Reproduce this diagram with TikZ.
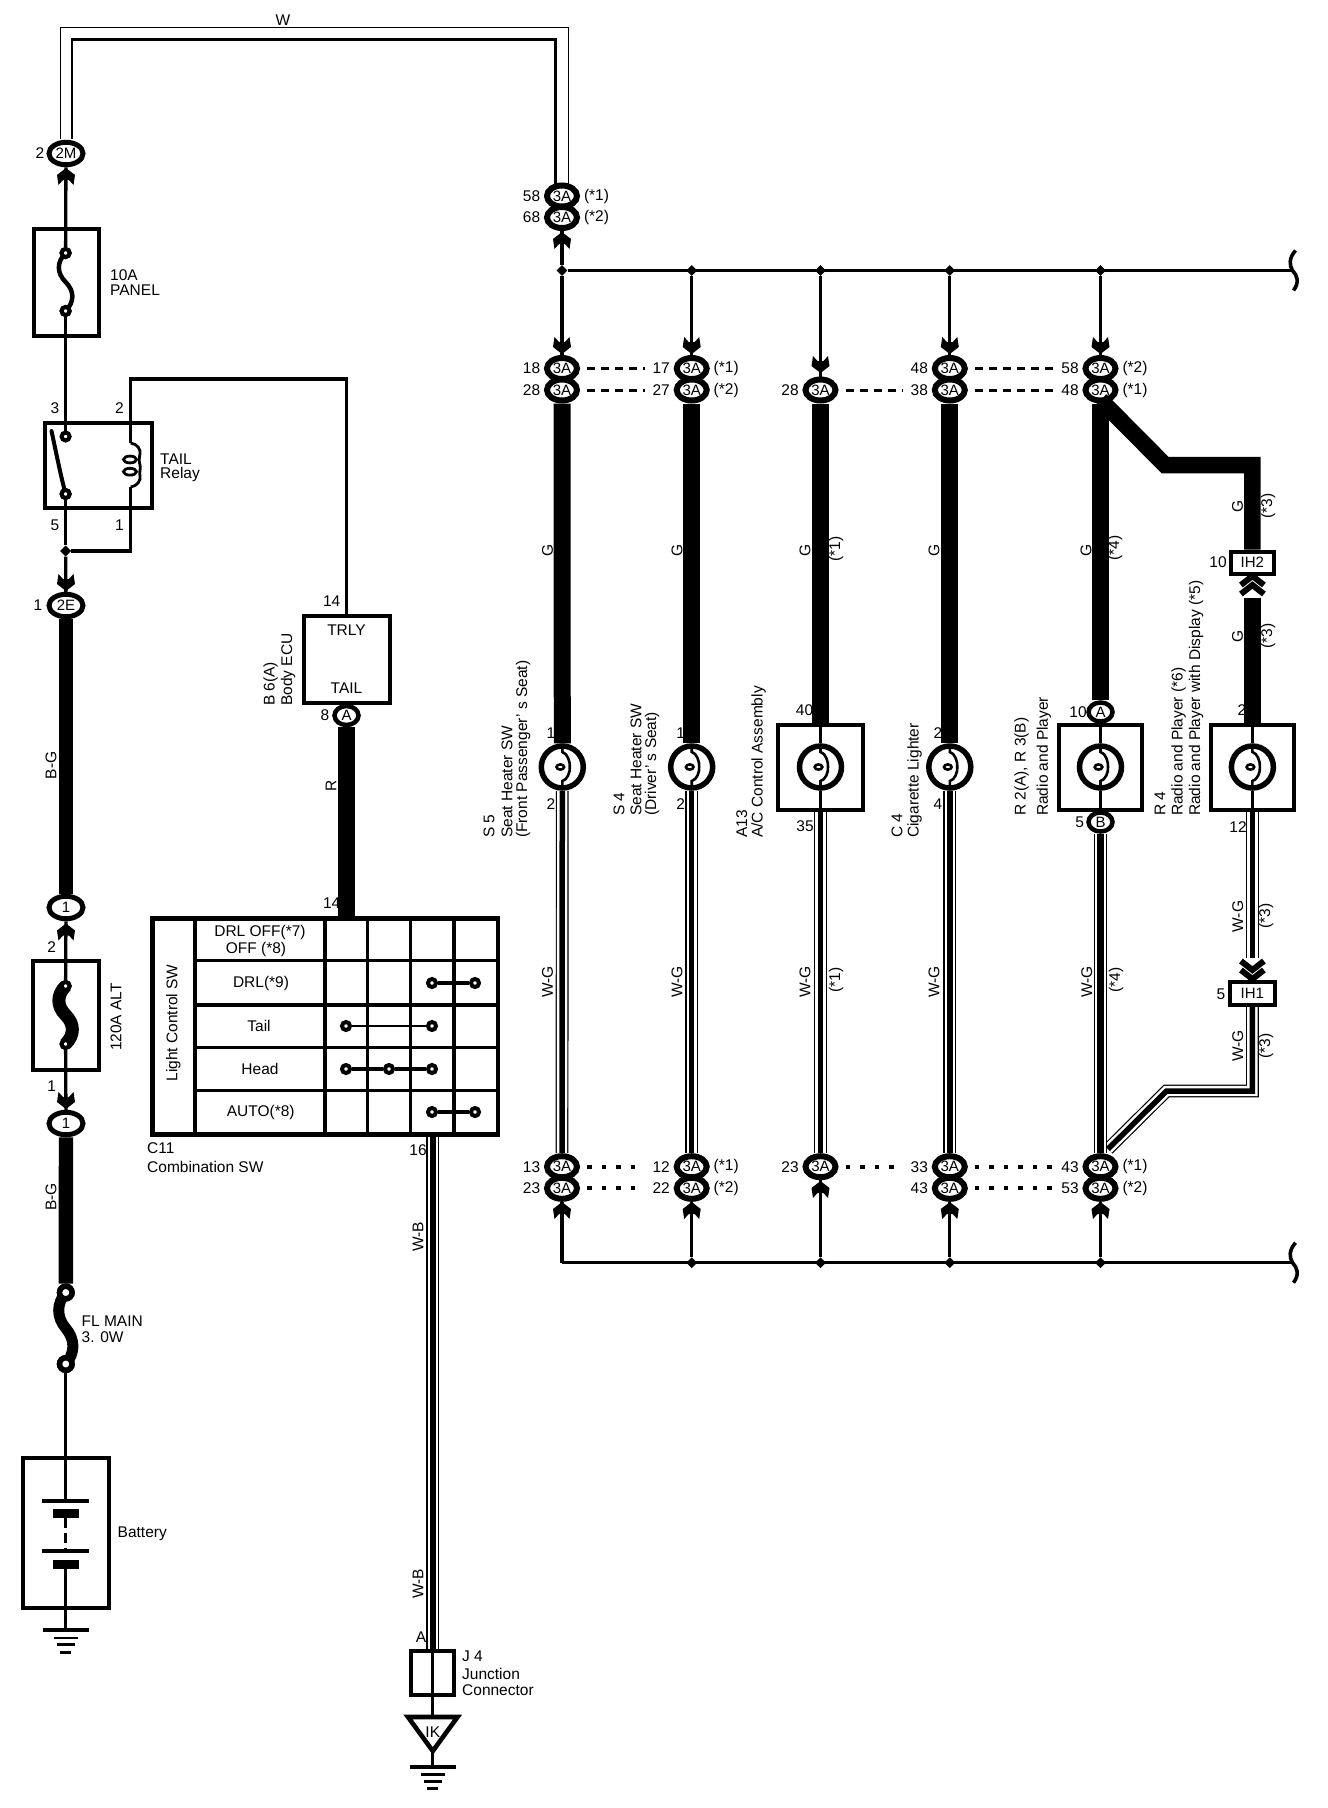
\documentclass[tikz,border=0pt]{standalone}
\usepackage{fontspec}
\setmainfont{Liberation Sans}
\usetikzlibrary{shapes.geometric}
\tikzset{
    lbl/.style = {font = \fontsize{15.5}{17}\selectfont, inner sep = 0pt},
    lblw/.style = {lbl, anchor = west},
    vlbl/.style = {lbl, rotate = 90},
    vlblw/.style = {lbl, rotate = 90, anchor = west},
    wire/.style = {line width = 3.3pt},
    heavywire/.style = {line width = 17pt},
    stripewire/.style = {line width = 5.5pt,
        preaction = {draw, line width = 12.8pt},
        preaction = {draw, white, line width = 10.4pt}},
    conn/.style = {ellipse, draw, fill = white, line width = 5pt, inner sep = 0pt,
        minimum width = 34pt, minimum height = 22.5pt, font = \fontsize{15}{17}\selectfont},
    smallconn/.style = {ellipse, draw, fill = white, line width = 4.5pt, inner sep = 0pt,
        minimum width = 24pt, minimum height = 19pt, font = \fontsize{15}{17}\selectfont},
    rowconn/.style = {ellipse, draw, fill = white, line width = 6pt, inner sep = 0pt,
        minimum width = 30pt, minimum height = 21pt, font = \fontsize{15}{17}\selectfont},
    partbox/.style = {rectangle, draw, line width = 4pt, inner sep = 0pt},
    termdot/.style = {circle, draw, fill = white, line width = 4pt, inner sep = 0pt, minimum size = 8pt},
    fldot/.style = {circle, draw, fill = white, line width = 5.5pt, inner sep = 0pt, minimum size = 12.5pt},
    joint/.style = {diamond, fill = black, inner sep = 0pt, minimum size = 11pt},
    lamp/.style = {circle, draw, fill = white, line width = 5.5pt, inner sep = 0pt, minimum size = 42pt},
    linkdash/.style = {line width = 3pt, dash pattern = on 8pt off 6pt},
    linkdot/.style = {line width = 4pt, dash pattern = on 4.5pt off 10pt},
    inarrow/.pic = {
        \fill (0,0) -- (9,7) -- (7.5,17) -- (3,12) -- (-3,12) -- (-7.5,17) -- (-9,7) -- cycle;
    },
    chevrons/.pic = {
        \draw[line width = 6pt, miter limit = 4] (-11.5,8) -- (0,-1) -- (11.5,8);
        \draw[line width = 6pt, miter limit = 4] (-11.5,17) -- (0,8) -- (11.5,17);
    },
    fusewire/.pic = {
        \draw (0,0) .. controls (-9,9) and (-9,20) .. (0,29) .. controls (9,38) and (9,49) .. (0,58);
    },
    lampcoil/.pic = {
        \draw[line width = 2.6pt] (0,-21) -- (0,-15) .. controls (5,-14) and (8,-5) .. (7.5,0)
            .. controls (8,5) and (5,13) .. (0,14) -- (0,21);
        \draw[line width = 2.6pt, fill = white] (-2,0) ellipse (3.8 and 2.6);
    },
    gnd/.pic = {
        \fill (-23,-2) rectangle (23,2);
        \fill (-12,6.5) rectangle (12,9);
        \fill (-8.7,13.2) rectangle (8.7,16.2);
        \fill (-5.5,20.5) rectangle (5.5,23.5);
    },
    brace/.pic = {
        \draw[line width = 3.6pt] (2,-20) .. controls (-5,-12) and (-4,-5) .. (-1,0) .. controls (4,5) and (6,12) .. (0,20);
    }
}
\newcommand{\threeA}[5]{%
    \node[rowconn] (#1) at (#2,#3) {3A};
    \node[lbl] (#1pin) at (#2-30.5,#3) {#4};
    \node[lbl] (#1star) at (#2+34.5,#3) {#5};
}
\begin{document}
\begin{tikzpicture}[x=1pt,y=-1pt]
    \useasboundingbox (0,0) rectangle (1328,1808);
    % left feed: connectors, fuses, relay
    \node[conn] (c2M) at (66,153.5) {2M};
    \node[lbl] (pin2M) at (40,153.5) {2};
    \node[partbox, minimum width = 65pt, minimum height = 107pt] (fuseA) at (66,282) {};
    \node[termdot] (fuseAt) at (65.6,253) {};
    \node[termdot] (fuseAb) at (65.6,311) {};
    \node[lblw] (fuseAa) at (110,275) {10A};
    \node[lblw] (fuseAn) at (110,290.5) {PANEL};
    \node[partbox, minimum width = 106.4pt, minimum height = 85pt] (relay) at (98.3,465) {};
    \node[termdot] (relayt) at (65.6,436.5) {};
    \node[termdot] (relayb) at (65.6,494) {};
    \coordinate (arm) at (51.5,431);
    \coordinate (coilT) at (130.7,443);
    \coordinate (coilB) at (130.7,487);
    \coordinate (coilUp) at (130.7,379);
    \node[lbl] (pin3) at (55,408.5) {3};
    \node[lbl] (pin2) at (119.5,408.5) {2};
    \node[lbl] (pin5) at (55,525) {5};
    \node[lbl] (pin1) at (119.5,525) {1};
    \node[lblw] (relayn) at (160,459) {TAIL};
    \node[lblw] (relayr) at (160,474.5) {Relay};
    \node[joint] (jr) at (65.6,551) {};
    \node[conn] (c2E) at (66,605.5) {2E};
    \node[lbl] (pin2E) at (38,605.5) {1};
    \node[conn] (cTop1) at (66,907.5) {1};
    \node[lbl] (pinF2) at (51.7,947.5) {2};
    \node[partbox, minimum width = 65.3pt, minimum height = 109pt] (fuseB) at (66,1015) {};
    \node[termdot] (fuseBt) at (65.6,986) {};
    \node[termdot] (fuseBb) at (65.6,1044) {};
    \node[vlbl] (fuseBn) at (116,1017) {120A ALT};
    \node[lbl] (pinF1) at (51.7,1086) {1};
    \node[conn] (cLow1) at (66,1123.5) {1};
    \node[vlbl] (wireBGa) at (51,765.5) {B-G};
    \node[vlbl] (wireBGb) at (51,1197) {B-G};
    \node[fldot] (flt) at (65.8,1292.5) {};
    \node[fldot] (flb) at (65.8,1364) {};
    \node[lblw] (fln) at (81.5,1321.5) {FL MAIN};
    \node[lblw] (flv) at (81.5,1337) {3. 0W};
    \node[partbox, minimum width = 86.5pt, minimum height = 150.5pt] (battery) at (66,1533) {};
    \node[lblw] (batteryn) at (117.5,1533.5) {Battery};
    \coordinate (batA) at (65.8,1500.5);
    \coordinate (batB) at (65.8,1518);
    \coordinate (batC) at (65.8,1551);
    \coordinate (batD) at (65.8,1568);
    \coordinate (gndA) at (65.8,1630);

    % W wire over the top
    \threeA{feedA}{562}{196}{58}{(*1)}
    \threeA{feedB}{562}{217.5}{68}{(*2)}
    \node[lbl] (wireW) at (283,20) {W};
    \coordinate (wOa) at (60.8,139);
    \coordinate (wOb) at (60.8,27.3);
    \coordinate (wOc) at (568.4,27.3);
    \coordinate (wOd) at (568.4,184);
    \coordinate (wIa) at (72,139);
    \coordinate (wIb) at (72,39.5);
    \coordinate (wIc) at (555.6,39.5);
    \coordinate (wId) at (555.6,184);
    \draw[line width = 1.3pt] (wOa) -- (wOb) -- (wOc) -- (wOd);
    \draw[line width = 2.3pt] (wIa) -- (wIb) -- (wIc) -- (wId);

    \draw[wire] (c2M) -- (fuseAt);
    \draw[wire] (fuseAb) -- (relayt);
    \draw[wire] (relayb) -- (jr);
    \draw[wire] (jr) -- (c2E);
    \draw[line width = 4pt, line cap = round] (arm) .. controls (56,452) and (60,472) .. (relayb);
    \pic[line width = 4.5pt] at (fuseAt) {fusewire};
    \node[termdot] at (fuseAt) {};
    \node[termdot] at (fuseAb) {};
    \node[termdot] at (relayb) {};
    \draw[line width = 14.4pt] (c2E) -- (cTop1);
    \draw[line width = 14.4pt] (cLow1) -- (flt);
    \draw[wire] (cTop1) -- (fuseBt);
    \draw[wire] (fuseBb) -- (cLow1);
    \pic[line width = 13pt] at (fuseBt) {fusewire};
    \node[termdot] at (fuseBt) {};
    \node[termdot] at (fuseBb) {};
    \pic[line width = 11pt, yscale = 1.233, xscale = 1.05] at (flt) {fusewire};
    \node[fldot] at (flt) {};
    \node[fldot] at (flb) {};
    \pic at (66,168) {inarrow};
    \pic[yscale = -1] at (66,591) {inarrow};
    \pic at (66,923.5) {inarrow};
    \pic[yscale = -1] at (66,1109) {inarrow};

    % relay coil
    \node[lbl] (pinT) at (331.7,601.5) {14};
    \node[partbox, minimum width = 86pt, minimum height = 87pt] (ecu) at (346.5,659) {};
    \node[lbl] (ecuT) at (346.5,630) {TRLY};
    \node[lbl] (ecuB) at (346.5,688.5) {TAIL};
    \node[vlblw] (ecuC) at (270.7,706) {B 6(A)};
    \node[vlblw] (ecuN) at (288,706) {Body ECU};
    \node[smallconn] (cA) at (346.5,715.5) {A};
    \node[lbl] (pinA) at (325,715.5) {8};
    \draw[wire] (ecu.north) |- (coilUp) -- (coilT);
    \draw[wire] (jr) -| (coilB);
    \draw[line width = 2.8pt] (coilT) .. controls (137,444) and (141,449) .. (140,454)
        .. controls (139,458) and (139,462) .. (140,465) .. controls (141,469) and (139,472) .. (140,476)
        .. controls (141,481) and (137,486) .. (coilB);
    \draw[line width = 2.8pt, fill = white] (130,459.5) ellipse (6.5 and 3.4);
    \draw[line width = 2.8pt, fill = white] (130,471.7) ellipse (6.5 and 3.4);

    % battery and ground
    \draw[wire] (flb) -- (batA);
    \fill (42,1498.5) rectangle (89,1502.5);
    \fill (53,1509) rectangle (79,1518);
    \draw[line width = 3pt, dash pattern = on 10pt off 5pt] (batB) -- (batC);
    \fill (42,1549) rectangle (89,1553);
    \fill (53,1559.5) rectangle (79,1568.5);
    \draw[wire] (batD) -- (gndA);
    \pic at (gndA) {gnd};

    % switch table
    \node[partbox, line width = 4.6pt, minimum width = 345.2pt, minimum height = 215.6pt] (tbl) at (325.3,1026.4) {};
    \foreach \tx in {195,325,367.7,410.7,454}
        \draw[line width = 3.3pt] (\tx,919) -- (\tx,1134);
    \foreach \ty in {960.7,1005,1047.7,1090.7}
        \draw[line width = 3.3pt] (195,\ty) -- (498,\ty);
    \node[vlbl] (tblS) at (173.3,1023) {Light Control SW};
    \node[lbl] (rowA) at (260,932) {DRL OFF(*7)};
    \node[lbl] (rowAb) at (256,949) {OFF (*8)};
    \node[lbl] (rowB) at (261,983) {DRL(*9)};
    \node[lbl] (rowC) at (259,1026) {Tail};
    \node[lbl] (rowD) at (260,1069) {Head};
    \node[lbl] (rowE) at (260.7,1112) {AUTO(*8)};
    \node[termdot] (drlA) at (432,983) {};
    \node[termdot] (drlB) at (475,983) {};
    \node[termdot] (tailA) at (346,1026) {};
    \node[termdot] (tailB) at (432,1026) {};
    \node[termdot] (headA) at (346,1069) {};
    \node[termdot] (headB) at (389,1069) {};
    \node[termdot] (headC) at (432,1069) {};
    \node[termdot] (autoA) at (432,1112) {};
    \node[termdot] (autoB) at (475,1112) {};
    \draw[wire] (drlA) -- (drlB);
    \draw[line width = 2pt] (tailA) -- (tailB);
    \draw[wire] (headA) -- (headB) -- (headC);
    \draw[wire] (autoA) -- (autoB);
    \node[lbl] (pinS) at (331.7,903.5) {14};
    \node[lbl] (pinR) at (418,1150) {16};
    \node[lblw] (tblC) at (147,1148) {C11};
    \node[lblw] (tblN) at (147,1167) {Combination SW};
    \node[vlbl] (wireR) at (331,786) {R};
    \draw[line width = 16.7pt] (cA) -- (cA |- tbl.north);

    % junction connector
    \node[partbox, minimum width = 43pt, minimum height = 43.6pt] (jun) at (432.8,1672.7) {};
    \node[lbl] (pinJ) at (421,1637.5) {A};
    \node[lblw] (junC) at (462,1656.5) {J 4};
    \node[lblw] (junA) at (462,1674) {Junction};
    \node[lblw] (junB) at (462,1690) {Connector};
    \node[vlbl] (wireWBa) at (418,1237) {W-B};
    \node[vlbl] (wireWBb) at (418,1584) {W-B};
    \coordinate (triL) at (408,1717);
    \coordinate (triR) at (457.5,1717);
    \coordinate (triB) at (432.8,1751);
    \coordinate (gndB) at (432.8,1766.5);
    \node[lbl] (triN) at (432.8,1732) {IK};
    \draw[stripewire] (jun.north |- tbl.south) -- (jun.north);
    \draw[wire] (jun.north) -- (triL -| jun.north);
    \draw[line width = 4.6pt] (triL) -- (triR) -- (triB) -- cycle;
    \draw[wire] (triB) -- (gndB);
    \pic at (gndB) {gnd};

    % bus bars and junctions
    \node[joint] (ja) at (562,270.5) {};
    \node[joint] (jb) at (691.7,270.5) {};
    \node[joint] (jc) at (820.5,270.5) {};
    \node[joint] (jd) at (949.8,270.5) {};
    \node[joint] (je) at (1100.5,270.5) {};
    \coordinate (busT) at (1291,270.5);
    \coordinate (ka) at (562,1262.7);
    \node[joint] (kb) at (691.7,1262.7) {};
    \node[joint] (kc) at (820.5,1262.7) {};
    \node[joint] (kd) at (949.8,1262.7) {};
    \node[joint] (ke) at (1100.5,1262.7) {};
    \coordinate (busB) at (1291,1262.7);
    \draw[wire] (feedB) -- (ja) -- (busT);
    \draw[wire] (ka) -- (busB);
    \pic at (1293.5,270.5) {brace};
    \pic at (1293.5,1262.7) {brace};
    \pic at (562,232) {inarrow};

    % upper connector rows
    \threeA{ta1}{562}{368.5}{18}{}
    \threeA{ta2}{562}{390}{28}{}
    \threeA{tb1}{691.7}{368.5}{17}{(*1)}
    \threeA{tb2}{691.7}{390}{27}{(*2)}
    \threeA{tc2}{820.5}{390}{28}{}
    \threeA{td1}{949.8}{368.5}{48}{}
    \threeA{td2}{949.8}{390}{38}{}
    \threeA{te1}{1100.5}{368.5}{58}{(*2)}
    \threeA{te2}{1100.5}{390}{48}{(*1)}
    \foreach \a/\b in {ta1/tb1,ta2/tb2,tc2/td2,td1/te1,td2/te2}
        \draw[linkdash] ([xshift = 7]\a.east) -- ([xshift = -29]\b.west);

    % lower connector rows
    \threeA{ba1}{562}{1166.7}{13}{}
    \threeA{ba2}{562}{1188.3}{23}{}
    \threeA{bb1}{691.7}{1166.7}{12}{(*1)}
    \threeA{bb2}{691.7}{1188.3}{22}{(*2)}
    \threeA{bc1}{820.5}{1166.7}{23}{}
    \threeA{bd1}{949.8}{1166.7}{33}{}
    \threeA{bd2}{949.8}{1188.3}{43}{}
    \threeA{be1}{1100.5}{1166.7}{43}{(*1)}
    \threeA{be2}{1100.5}{1188.3}{53}{(*2)}
    \foreach \a/\b in {ba1/bb1,ba2/bb2,bc1/bd1,bd1/be1,bd2/be2}
        \draw[linkdot] ([xshift = 7]\a.east) -- ([xshift = -29]\b.west);

    % loads
    \node[lamp] (la) at (562.3,767) {};
    \node[lamp] (lb) at (691.7,767) {};
    \node[partbox, minimum width = 85.4pt, minimum height = 85.4pt] (boxc) at (820.5,767.5) {};
    \node[lamp] (lc) at (820.5,767) {};
    \node[lamp] (ld) at (949.8,767) {};
    \node[partbox, minimum width = 83.4pt, minimum height = 85.4pt] (boxe) at (1100.5,767.5) {};
    \node[lamp] (le) at (1100.5,767) {};
    \node[partbox, minimum width = 83pt, minimum height = 85.4pt] (boxf) at (1252.4,767.5) {};
    \node[lamp] (lf) at (1252.4,767) {};
    \node[smallconn] (cPlusA) at (1100.5,712) {A};
    \node[smallconn] (cPlusB) at (1100.5,822) {B};
    \node[partbox, minimum width = 42.3pt, minimum height = 22pt, font = \fontsize{15}{17}\selectfont] (ih2) at (1252.4,562.5) {IH2};
    \node[partbox, minimum width = 44.7pt, minimum height = 22.7pt, font = \fontsize{15}{17}\selectfont] (ih1) at (1252.4,993.8) {IH1};

    % wires into the loads
    \foreach \j/\c in {ja/ta1,jb/tb1,jc/tc2,jd/td1,je/te1}
        \draw[wire] (\j) -- (\c);
    \foreach \c/\l in {ta2/la,tb2/lb,td2/ld}
        \draw[heavywire] (\c) -- (\l);
    \draw[heavywire] (tc2) -- (boxc.north);
    \draw[wire] (boxc.north) -- (lc);
    \draw[heavywire] (te2) -- (cPlusA);
    \draw[wire] (cPlusA) -- (le);
    \draw[wire] (le) -- (cPlusB);
    \draw[wire] (lc) -- (boxc.south);
    \draw[line width = 16.5pt] (1100.5,400) -- (1165,465) -- (1252.4,465) -- (ih2.north);
    \draw[heavywire] (1252.4,598) -- (boxf.north);
    \draw[wire] (boxf.north) -- (lf);
    \draw[wire] (lf) -- (boxf.south);
    \pic at (1252.4,577) {chevrons};
    \pic[yscale = -1] at (1252.4,978) {chevrons};

    % striped return wires
    \draw[stripewire] (boxf.south) -- (1252.4,958);
    \draw[stripewire] (ih1.south) -- (1252.4,1091) -- (1166.5,1091) -- (1108,1149);
    \foreach \l/\c in {la/ba1,lb/bb1,ld/bd1}
        \draw[stripewire] (\l) -- (\c);
    \draw[stripewire] (boxc.south) -- (bc1);
    \draw[stripewire, line width = 6.5pt] (cPlusB) -- (be1);
    \foreach \l in {la,lb,lc,ld,le,lf}
        \pic at (\l) {lampcoil};
    \foreach \c/\k in {ba2/ka,bb2/kb,bc1/kc,bd2/kd,be2/ke}
        \draw[wire] (\c) -- (\k);

    % arrow tips
    \foreach \tx in {562,691.7,949.8,1100.5}
        \pic[yscale = -1] at (\tx,354) {inarrow};
    \pic[yscale = -1] at (820.5,373) {inarrow};
    \foreach \tx in {562,691.7,949.8,1100.5}
        \pic at (\tx,1202) {inarrow};
    \pic at (820.5,1181) {inarrow};

    % pin numbers
    \node[lbl] (pinaT) at (551,732.7) {1};
    \node[lbl] (pinaB) at (551,804) {2};
    \node[lbl] (pinbT) at (680.6,732.7) {1};
    \node[lbl] (pinbB) at (680.6,804) {2};
    \node[lbl] (pincT) at (804.6,710) {40};
    \node[lbl] (pincB) at (805,826) {35};
    \node[lbl] (pindT) at (938,732.7) {2};
    \node[lbl] (pindB) at (938,804) {4};
    \node[lbl] (pineT) at (1078,712.5) {10};
    \node[lbl] (pineB) at (1079.7,822) {5};
    \node[lbl] (pinfT) at (1241.8,710) {2};
    \node[lbl] (pinfB) at (1238,826.7) {12};
    \node[lbl] (pinIHb) at (1218,562.5) {10};
    \node[lbl] (pinIHa) at (1221,994) {5};

    % wire colours
    \node[vlbl] (gA) at (547.5,550) {G};
    \node[vlbl] (gB) at (677,550) {G};
    \node[vlbl] (gC) at (805,550) {G};
    \node[vlbl] (gD) at (934,550) {G};
    \node[vlbl] (gE) at (1086,550) {G};
    \node[vlbl] (sC) at (836,549) {(*1)};
    \node[vlbl] (sE) at (1115,548) {(*4)};
    \node[vlbl] (gFa) at (1237.6,506.7) {G};
    \node[vlbl] (sFa) at (1268,505.7) {(*3)};
    \node[vlbl] (gFb) at (1237.6,636) {G};
    \node[vlbl] (sFb) at (1268,636) {(*3)};
    \node[vlbl] (wgA) at (547.5,982) {W-G};
    \node[vlbl] (wgB) at (677,982) {W-G};
    \node[vlbl] (wgC) at (805,982) {W-G};
    \node[vlbl] (wgD) at (934,982) {W-G};
    \node[vlbl] (wgE) at (1086.7,982) {W-G};
    \node[vlbl] (wsC) at (836,980) {(*1)};
    \node[vlbl] (wsE) at (1116,980) {(*4)};
    \node[vlbl] (wgFa) at (1237.7,916.7) {W-G};
    \node[vlbl] (wsFa) at (1266,915.7) {(*3)};
    \node[vlbl] (wgFb) at (1237.7,1046) {W-G};
    \node[vlbl] (wsFb) at (1266,1045.7) {(*3)};

    % part names
    \node[vlblw] (nameAa) at (489,838) {S 5};
    \node[vlblw] (nameAb) at (507,838) {Seat Heater SW};
    \node[vlblw] (nameAc) at (523,838) {(Front Passenger' s Seat)};
    \node[vlblw] (nameBa) at (619,816) {S 4};
    \node[vlblw] (nameBb) at (636,816) {Seat Heater SW};
    \node[vlblw] (nameBc) at (652,816) {(Driver' s Seat)};
    \node[vlblw] (nameCa) at (741.8,838) {A13};
    \node[vlblw] (nameCb) at (758.7,838) {A/C Control Assembly};
    \node[vlblw] (nameDa) at (897,838) {C 4};
    \node[vlblw] (nameDb) at (914.5,838) {Cigarette Lighter};
    \node[vlblw] (nameEa) at (1021.6,816) {R 2(A), R 3(B)};
    \node[vlblw] (nameEb) at (1043.8,816) {Radio and Player};
    \node[vlblw] (nameFa) at (1160,816) {R 4};
    \node[vlblw] (nameFb) at (1178.5,816) {Radio and Player (*6)};
    \node[vlblw] (nameFc) at (1196,816) {Radio and Player with Display (*5)};
\end{tikzpicture}
\end{document}
